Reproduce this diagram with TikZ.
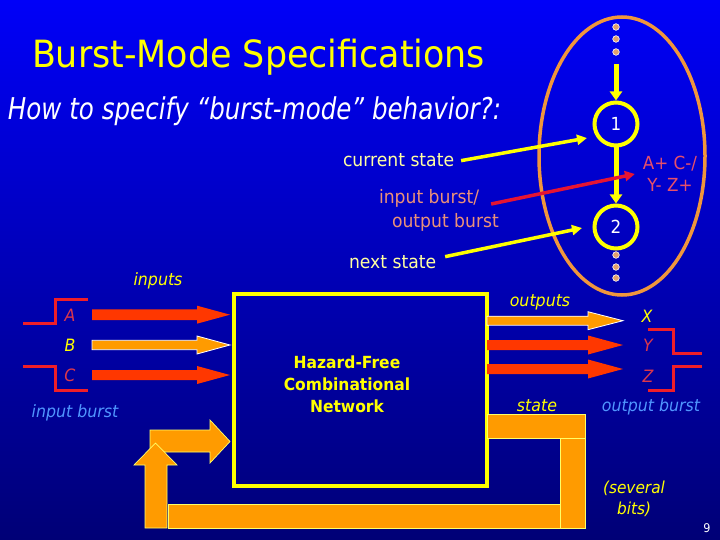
\documentclass[tikz,border=0pt]{standalone}
\usepackage{fontspec}
\setmainfont{DejaVu Sans}[FakeStretch=0.93]
\usetikzlibrary{arrows.meta,calc}
\definecolor{bgtop}{RGB}{0,0,248}
\definecolor{bgbot}{RGB}{0,0,118}
\definecolor{ylw}{RGB}{255,255,0}
\definecolor{paleylw}{RGB}{255,255,160}
\definecolor{ellorange}{RGB}{240,150,60}
\definecolor{fatred}{RGB}{255,55,0}
\definecolor{fatorange}{RGB}{255,155,0}
\definecolor{sigred}{RGB}{240,30,40}
\definecolor{letred}{RGB}{220,55,75}
\definecolor{salmon}{RGB}{235,145,120}
\definecolor{burstpink}{RGB}{232,80,105}
\definecolor{linered}{RGB}{230,20,50}
\definecolor{ltblue}{RGB}{80,150,255}
\definecolor{dotc}{RGB}{225,160,110}
\newcommand\fatarr[6]{(#1,#4-#5) -- (#2,#4-#5) -- (#2,#4-#6) -- (#3,#4) -- (#2,#4+#6) -- (#2,#4+#5) -- (#1,#4+#5) -- cycle}
\begin{document}
\begin{tikzpicture}[x=1pt,y=-1pt,
  txt/.style={inner sep=0pt,outer sep=0pt},
  lab/.style={txt,font=\fontsize{17}{20}\selectfont\itshape},
  plain/.style={txt,font=\fontsize{18.5}{22}\selectfont},
  stnode/.style={circle,draw=ylw,line width=4pt,minimum size=43pt,inner sep=0pt,text=white,font=\fontsize{18}{20}\selectfont},
  vert/.style={ylw,line width=5pt,-{Triangle[length=9pt,width=12pt]}},
  conn/.style={line width=3.5pt,-{Triangle[length=10pt,width=10pt]}},
  wave/.style={sigred,line width=3pt},
  fatr/.style={fill=fatred},
  fato/.style={fill=fatorange,draw=white,line width=0.8pt},
  stbar/.style={fill=fatorange,draw=ylw!60!white,line width=0.7pt},
  dot/.style={fill=dotc,draw=white,line width=0.6pt}
]
\shade[top color=bgtop,bottom color=bgbot] (0,0) rectangle (720,540);
\useasboundingbox (0,0) rectangle (720,540);

% titles
\node[txt,anchor=base west,text=ylw,font=\fontsize{37.5}{40}\selectfont] (title) at (32,68) {Burst-Mode Specifications};
\node[txt,anchor=base west,text=white,font=\fontsize{30}{34}\selectfont\itshape] (sub) at (8,120) {\scalebox{0.88}[1]{How to specify “burst-mode” behavior?:}};

% ellipse with states
\draw[ellorange,line width=3.5pt] (622,156) ellipse [x radius=83, y radius=139];
\foreach \yy in {27,39,52,255,267,278} \filldraw[dot] (616,\yy) circle (3.3);
\node[stnode] (c1) at (616,124) {1};
\node[stnode] (c2) at (616,227) {2};
\coordinate (topin) at (616,64);
\draw[vert] (topin) -- (c1);
\draw[vert] (c1) -- (c2);
\node[txt,align=center,text=burstpink,font=\fontsize{18}{22}\selectfont] (burst) at (670,174) {A+ C-/\\Y- Z+};

% explanation labels
\node[plain,anchor=base west,text=paleylw] (cs) at (343,167) {current state};
\node[plain,anchor=base west,text=salmon] (ib) at (379,204) {input burst/};
\node[plain,anchor=base west,text=salmon] (ob) at (392,227) {output burst};
\node[plain,anchor=base west,text=paleylw] (ns) at (349,268) {next state};
\draw[conn,ylw] ($(cs.east)+(7,0)$) -- ($(c1)+(-29,14)$);
\draw[conn,linered] ($(ib.base east)+(12,0)$) -- ($(burst.west)+(-8,0)$);
\draw[conn,ylw] ($(ns.east)+(9,-5)$) -- ($(c2)+(-34,1)$);

% network box
\node[draw=ylw,line width=4pt,minimum width=253pt,minimum height=192pt,inner sep=0pt] (net) at (360.5,390) {};
\node[txt,align=center,text=ylw,font=\fontsize{16.7}{22}\selectfont\bfseries] (nettext) at (347,384) {Hazard-Free\\Combinational\\Network};

% inputs
\node[lab,anchor=base,text=ylw] (inl) at (158,285) {inputs};
\fill[fatr] \fatarr{92}{197}{230}{314.7}{5.4}{9};
\filldraw[fato] \fatarr{92}{197}{230}{345}{4.7}{9};
\fill[fatr] \fatarr{92}{197}{230}{375}{5}{9};
\draw[wave] (23,323) -- (55,323) -- (55,299) -- (88,299);
\draw[wave] (23,366) -- (55,366) -- (55,390) -- (88,390);
\node[lab,text=letred] (la) at (70,315) {A};
\node[lab,text=ylw] (lb) at (70,345) {B};
\node[lab,text=letred] (lc) at (70,375) {C};
\node[lab,anchor=base,text=ltblue] (ibl) at (75,417) {input burst};

% outputs
\node[lab,anchor=base,text=ylw] (outl) at (540,306) {outputs};
\filldraw[fato] \fatarr{487}{588}{623}{320.7}{4.5}{9};
\fill[fatr] \fatarr{487}{588}{623}{345}{5}{9.5};
\fill[fatr] \fatarr{487}{588}{623}{369}{5}{9.5};
\draw[wave] (648,329) -- (673,329) -- (673,353) -- (702,353);
\draw[wave] (702,366) -- (673,366) -- (673,390) -- (648,390);
\node[lab,text=ylw] (lx) at (647,316) {X};
\node[lab,text=letred] (ly) at (648,345) {Y};
\node[lab,text=letred] (lz) at (648,376) {Z};
\node[lab,anchor=base,text=ltblue] (obl) at (651,411) {output burst};
\node[lab,anchor=base,text=ylw] (stl) at (537,411) {state};

% state feedback
\filldraw[stbar] (487,414) rectangle (585,438);
\filldraw[stbar] (560,438) rectangle (585,528);
\filldraw[stbar] (168,504) rectangle (560,528);
\filldraw[stbar] (150,430) -- (210,430) -- (210,420) -- (230,441.5) -- (210,463) -- (210,452) -- (150,452) -- cycle;
\filldraw[stbar] (145,528) -- (145,465) -- (134,465) -- (155.5,443) -- (177,465) -- (167,465) -- (167,528) -- cycle;
\node[lab,align=center,text=ylw,font=\fontsize{16.5}{21}\selectfont\itshape] (sev) at (634,499) {(several\\bits)};

\node[txt,text=white,font=\fontsize{12}{14}\selectfont] (pg) at (707,528) {9};
\end{tikzpicture}
\end{document}
